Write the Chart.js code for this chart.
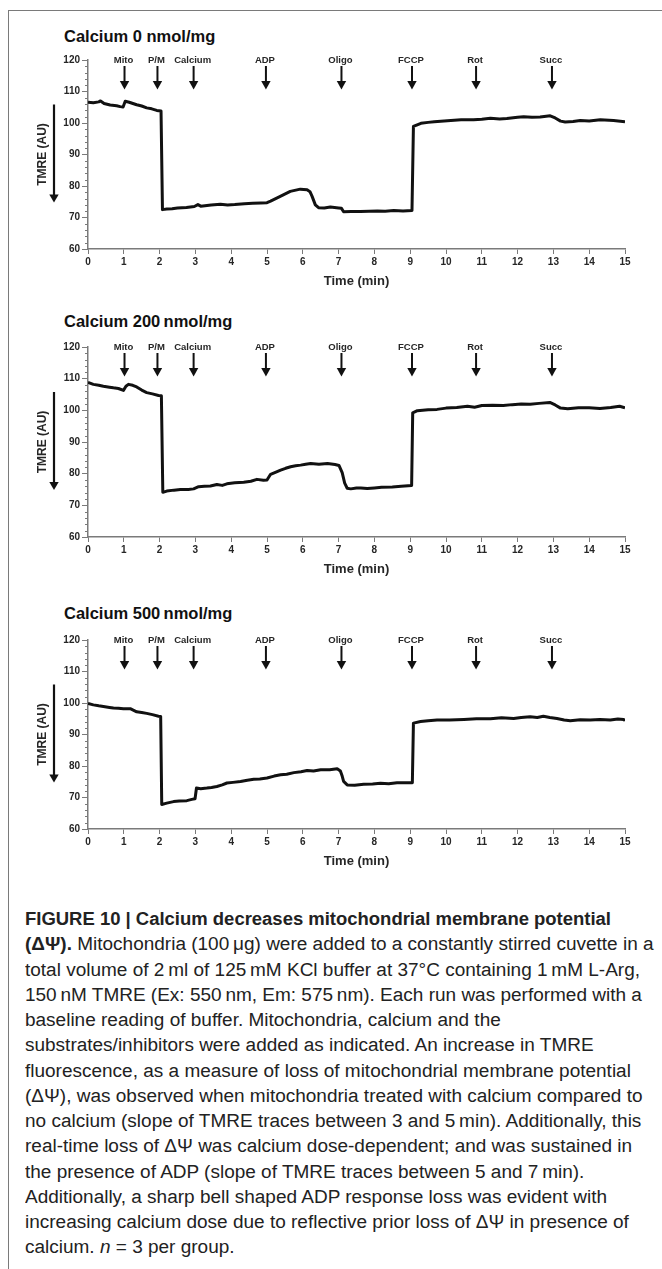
<!DOCTYPE html>
<html lang="en">
<head>
<meta charset="utf-8">
<title>Figure 10 - TMRE traces</title>
<script src="https://cdn.jsdelivr.net/npm/chart.js@4.4.1/dist/chart.umd.min.js"></script>
<style>
    html, body { margin: 0; padding: 0; background: #fff; }
    body { width: 662px; height: 1269px; position: relative; overflow: hidden; font-family: "Liberation Sans", Arial, sans-serif; }
    .frame { position: absolute; left: 8px; top: 10px; width: 660px; height: 1270px; border-top: 1.5px solid #7a7a7a; border-left: 1.5px solid #7a7a7a; }
    .panel-title { position: absolute; left: 64px; font-weight: 700; font-size: 16.5px; line-height: 20px; color: #111; white-space: nowrap; }
    .chart-box { position: absolute; left: 0; width: 662px; }
    .caption { position: absolute; left: 25px; top: 907px; font-size: 18px; line-height: 25.25px; color: #222; transform-origin: 0 0;
               font-family: "Liberation Sans Narrow", "Liberation Sans", Arial, sans-serif; }
    .caption .ln { white-space: nowrap; }
    .caption .ln span { display: inline-block; transform-origin: 0 0; }
</style>
</head>
<body>
<div class="frame"></div>

<div class="panel-title" style="top:26px">Calcium 0 nmol/mg</div>
<div class="chart-box" style="top:45px;height:250px"><canvas id="chart-ca0"></canvas></div>

<div class="panel-title" style="top:311px">Calcium 200&thinsp;nmol/mg</div>
<div class="chart-box" style="top:332px;height:251px"><canvas id="chart-ca200"></canvas></div>

<div class="panel-title" style="top:603px">Calcium 500&thinsp;nmol/mg</div>
<div class="chart-box" style="top:625px;height:250px"><canvas id="chart-ca500"></canvas></div>

<div class="caption" id="caption">
    <div class="ln"><span id="cap-head"><b>FIGURE 10 | Calcium decreases mitochondrial membrane potential</b></span></div>
    <div class="ln"><span><b>(&Delta;&Psi;).</b> Mitochondria (100&thinsp;&mu;g) were added to a constantly stirred cuvette in a</span></div>
    <div class="ln"><span id="cap-ref">total volume of 2&thinsp;ml of 125&thinsp;mM KCl buffer at 37&deg;C containing 1&thinsp;mM L-Arg,</span></div>
    <div class="ln"><span>150&thinsp;nM TMRE (Ex: 550&thinsp;nm, Em: 575&thinsp;nm). Each run was performed with a</span></div>
    <div class="ln"><span>baseline reading of buffer. Mitochondria, calcium and the</span></div>
    <div class="ln"><span>substrates/inhibitors were added as indicated. An increase in TMRE</span></div>
    <div class="ln"><span>fluorescence, as a measure of loss of mitochondrial membrane potential</span></div>
    <div class="ln"><span>(&Delta;&Psi;), was observed when mitochondria treated with calcium compared to</span></div>
    <div class="ln"><span>no calcium (slope of TMRE traces between 3 and 5&thinsp;min). Additionally, this</span></div>
    <div class="ln"><span>real-time loss of &Delta;&Psi; was calcium dose-dependent; and was sustained in</span></div>
    <div class="ln"><span>the presence of ADP (slope of TMRE traces between 5 and 7&thinsp;min).</span></div>
    <div class="ln"><span>Additionally, a sharp bell shaped ADP response loss was evident with</span></div>
    <div class="ln"><span>increasing calcium dose due to reflective prior loss of &Delta;&Psi; in presence of</span></div>
    <div class="ln"><span>calcium. <i>n</i> = 3 per group.</span></div>
</div>

<script>
// --- Data ---
// additions marked with arrows (time in min)
const eventLabels = ['Mito', 'P/M', 'Calcium', 'ADP', 'Oligo', 'FCCP', 'Rot', 'Succ'];
const eventTimes = [1.02, 1.94, 2.95, 4.97, 7.08, 9.05, 10.84, 12.96];

// axis ticks
const timeTicks = [0, 15, 1];     // min, max, step
const tmreTicks = [60, 120, 10];  // min, max, step
const tmreMinorStep = 2;

// Calcium 0 nmol/mg
const ca0Time = [
    0, 0.15, 0.3, 0.35, 0.45, 0.62, 0.8, 0.9, 0.98, 1.04,
    1.15, 1.36, 1.5, 1.64, 1.78, 1.92, 2.04, 2.08, 2.2, 2.35,
    2.5, 2.75, 2.97, 3.07, 3.15, 3.44, 3.7, 3.9, 4.1, 4.37,
    4.6, 4.83, 5.0, 5.1, 5.37, 5.65, 5.93, 6.12, 6.2, 6.26,
    6.35, 6.44, 6.6, 6.77, 7.0, 7.08, 7.14, 7.35, 7.61, 7.85,
    8.08, 8.3, 8.54, 8.8, 9.05, 9.09, 9.3, 9.5, 9.67, 10.04,
    10.42, 10.77, 11.0, 11.24, 11.5, 11.7, 12.0, 12.17, 12.4, 12.63,
    12.91, 13.05, 13.2, 13.33, 13.55, 13.75, 14.0, 14.31, 14.68, 15.0
];
const ca0Tmre = [
    106.6, 106.4, 106.7, 107.0, 106.2, 105.7, 105.5, 105.2, 105.1, 106.9,
    106.6, 105.8, 105.4, 104.8, 104.5, 104.0, 103.8, 72.5, 72.7, 72.8,
    73.0, 73.2, 73.5, 74.1, 73.6, 74.0, 74.2, 74.0, 74.1, 74.4,
    74.5, 74.6, 74.7, 75.2, 76.7, 78.3, 79.0, 78.8, 78.2, 76.7,
    74.0, 73.1, 73.0, 73.3, 73.0, 72.9, 71.8, 71.9, 71.9, 72.0,
    72.1, 72.0, 72.2, 72.1, 72.2, 98.9, 99.9, 100.2, 100.4, 100.7,
    101.0, 101.0, 101.2, 101.5, 101.3, 101.4, 101.8, 102.0, 101.8, 101.9,
    102.3, 101.6, 100.6, 100.3, 100.5, 100.8, 100.6, 101.0, 100.8, 100.4
];

// Calcium 200 nmol/mg
const ca200Time = [
    0, 0.15, 0.3, 0.43, 0.6, 0.71, 0.85, 0.99, 1.06, 1.13,
    1.25, 1.36, 1.5, 1.64, 1.8, 1.97, 2.05, 2.09, 2.2, 2.4,
    2.58, 2.8, 2.95, 3.09, 3.25, 3.42, 3.6, 3.75, 3.88, 4.1,
    4.35, 4.55, 4.72, 4.9, 5.0, 5.1, 5.25, 5.38, 5.52, 5.66,
    5.8, 5.94, 6.08, 6.22, 6.45, 6.69, 6.9, 7.01, 7.1, 7.17,
    7.24, 7.34, 7.5, 7.62, 7.8, 8.0, 8.2, 8.5, 8.75, 9.04,
    9.07, 9.2, 9.5, 9.75, 10.0, 10.3, 10.6, 10.8, 11.0, 11.3,
    11.6, 11.85, 12.1, 12.35, 12.6, 12.9, 13.05, 13.2, 13.4, 13.7,
    14.0, 14.3, 14.6, 14.85, 15.0
];
const ca200Tmre = [
    108.8, 108.2, 107.9, 107.6, 107.3, 107.1, 106.9, 106.3, 107.6, 108.2,
    107.9, 107.4, 106.4, 105.6, 105.2, 104.7, 104.6, 74.1, 74.5, 74.8,
    75.0, 75.0, 75.2, 75.9, 76.0, 76.1, 76.6, 76.3, 76.8, 77.1,
    77.3, 77.6, 78.2, 77.9, 78.0, 79.8, 80.5, 81.1, 81.7, 82.2,
    82.5, 82.7, 83.0, 83.2, 83.0, 83.2, 82.9, 82.6, 80.3, 77.0,
    75.4, 75.2, 75.5, 75.5, 75.3, 75.5, 75.7, 75.8, 76.0, 76.3,
    99.2, 99.9, 100.2, 100.3, 100.7, 100.9, 101.3, 101.0, 101.5, 101.6,
    101.5, 101.8, 102.0, 101.9, 102.2, 102.5, 101.7, 100.7, 100.5, 100.8,
    100.8, 100.6, 100.9, 101.3, 100.8
];

// Calcium 500 nmol/mg
const ca500Time = [
    0, 0.15, 0.3, 0.43, 0.6, 0.71, 0.85, 0.99, 1.18, 1.36,
    1.5, 1.64, 1.8, 1.97, 2.03, 2.06, 2.2, 2.39, 2.55, 2.76,
    2.9, 2.99, 3.03, 3.15, 3.32, 3.45, 3.6, 3.75, 3.88, 4.05,
    4.26, 4.45, 4.63, 4.8, 5.0, 5.2, 5.38, 5.55, 5.75, 5.95,
    6.12, 6.3, 6.5, 6.75, 6.96, 7.05, 7.1, 7.14, 7.24, 7.45,
    7.7, 7.95, 8.17, 8.4, 8.63, 8.85, 9.06, 9.09, 9.29, 9.5,
    9.75, 10.1, 10.5, 10.85, 11.24, 11.55, 11.89, 12.1, 12.35, 12.55,
    12.72, 12.9, 13.1, 13.3, 13.47, 13.75, 14.03, 14.3, 14.59, 14.8,
    14.96, 15.0
];
const ca500Tmre = [
    99.9, 99.4, 99.1, 98.9, 98.6, 98.4, 98.3, 98.2, 98.2, 97.2,
    97.0, 96.7, 96.3, 95.8, 95.7, 67.8, 68.2, 68.7, 68.9, 69.0,
    69.4, 69.6, 73.0, 72.8, 73.0, 73.2, 73.5, 74.0, 74.6, 74.8,
    75.1, 75.5, 75.8, 75.9, 76.2, 76.8, 77.2, 77.4, 77.9, 78.2,
    78.6, 78.4, 78.8, 78.8, 79.1, 78.4, 76.8, 75.1, 74.0, 73.9,
    74.2, 74.3, 74.5, 74.4, 74.7, 74.7, 74.7, 93.6, 94.1, 94.4,
    94.6, 94.6, 94.8, 95.0, 95.0, 95.3, 95.1, 95.4, 95.6, 95.4,
    95.8, 95.4, 95.1, 94.6, 94.4, 94.7, 94.6, 94.8, 94.6, 94.9,
    94.8, 94.4
];

document.addEventListener('DOMContentLoaded', () => {
    // --- Caption width: squeeze to the condensed look of the original ---
    const caption = document.getElementById('caption');
    const refWidth = document.getElementById('cap-ref').getBoundingClientRect().width;
    const k = 615 / refWidth;
    caption.style.transform = `scaleX(${k})`;
    // bold heading is a touch narrower in the original
    const head = document.getElementById('cap-head');
    const headWidth = head.getBoundingClientRect().width; // already scaled by k
    head.style.transform = `scaleX(${586 / headWidth})`;

    const axisGrey = '#7a7a7a';
    const labelColor = '#262626';

    // --- Arrows, minor ticks and the y-direction arrow ---
    const markersPlugin = {
        id: 'markers',
        afterDraw(chart) {
            const { ctx, chartArea, scales: { x, y } } = chart;
            const yTop = y.getPixelForValue(tmreTicks[1]);
            ctx.save();

            // minor ticks on the y axis
            ctx.strokeStyle = axisGrey;
            ctx.lineWidth = 1;
            for (let v = tmreTicks[0]; v <= tmreTicks[1]; v += tmreMinorStep) {
                if (v % tmreTicks[2] === 0) continue;
                const py = Math.round(y.getPixelForValue(v)) + 0.5;
                ctx.beginPath();
                ctx.moveTo(chartArea.left - 3, py);
                ctx.lineTo(chartArea.left, py);
                ctx.stroke();
            }

            // event labels + arrows
            ctx.fillStyle = labelColor;
            ctx.strokeStyle = '#111';
            ctx.font = 'bold 9.5px "Liberation Sans", Arial, sans-serif';
            ctx.textAlign = 'center';
            ctx.textBaseline = 'middle';
            eventTimes.forEach((t, i) => {
                const px = x.getPixelForValue(t);
                ctx.fillText(eventLabels[i], px - 1, yTop);
                ctx.lineWidth = 2;
                ctx.beginPath();
                ctx.moveTo(px, yTop + 6);
                ctx.lineTo(px, yTop + 22);
                ctx.stroke();
                ctx.fillStyle = '#111';
                ctx.beginPath();
                ctx.moveTo(px - 4.7, yTop + 21);
                ctx.lineTo(px + 4.7, yTop + 21);
                ctx.lineTo(px, yTop + 29.5);
                ctx.closePath();
                ctx.fill();
                ctx.fillStyle = labelColor;
            });

            // downward arrow beside the y title
            const ax = chartArea.left - 34;
            const cy = (chartArea.top + chartArea.bottom) / 2;
            ctx.strokeStyle = '#111';
            ctx.lineWidth = 2.2;
            ctx.beginPath();
            ctx.moveTo(ax, cy - 50);
            ctx.lineTo(ax, cy + 41);
            ctx.stroke();
            ctx.fillStyle = '#111';
            ctx.beginPath();
            ctx.moveTo(ax - 4.7, cy + 40);
            ctx.lineTo(ax + 4.7, cy + 40);
            ctx.lineTo(ax, cy + 48);
            ctx.closePath();
            ctx.fill();

            ctx.restore();
        }
    };

    // --- Charts ---
    const panels = [
        { id: 'chart-ca0', times: ca0Time, values: ca0Tmre },
        { id: 'chart-ca200', times: ca200Time, values: ca200Tmre },
        { id: 'chart-ca500', times: ca500Time, values: ca500Tmre }
    ];

    const tickFont = { family: '"Liberation Sans", Arial, sans-serif', size: 10, weight: 'bold' };
    const titleFont = { family: '"Liberation Sans", Arial, sans-serif', size: 13, weight: 'bold' };

    panels.forEach(p => {
        const ctx = document.getElementById(p.id).getContext('2d');
        new Chart(ctx, {
            type: 'line',
            data: {
                datasets: [{
                    label: 'TMRE',
                    data: p.times.map((t, i) => ({ x: t, y: p.values[i] })),
                    borderColor: '#111',
                    borderWidth: 3,
                    borderJoinStyle: 'round',
                    pointRadius: 0,
                    tension: 0,
                    fill: false
                }]
            },
            options: {
                responsive: true,
                maintainAspectRatio: false,
                animation: false,
                layout: { padding: { top: 15, right: 37, bottom: 0, left: 0 } },
                plugins: {
                    legend: { display: false },
                    tooltip: { enabled: false }
                },
                scales: {
                    x: {
                        type: 'linear',
                        min: timeTicks[0],
                        max: timeTicks[1],
                        ticks: { stepSize: timeTicks[2], color: labelColor, font: tickFont, padding: 2, maxRotation: 0 },
                        grid: { drawOnChartArea: false, tickLength: 5, color: axisGrey },
                        border: { color: axisGrey, width: 1.5 },
                        title: { display: true, text: 'Time (min)', color: labelColor, font: titleFont, padding: { top: 0, bottom: 6 } },
                        afterFit: scale => { scale.height = 46; }
                    },
                    y: {
                        min: tmreTicks[0],
                        max: tmreTicks[1],
                        ticks: { stepSize: tmreTicks[2], color: labelColor, font: tickFont, padding: 2 },
                        grid: { drawOnChartArea: false, tickLength: 6, color: axisGrey },
                        border: { color: axisGrey, width: 1.5 },
                        title: { display: true, text: 'TMRE (AU)', color: labelColor, font: { ...titleFont, size: 12 }, padding: { top: 35, bottom: 0 } },
                        afterFit: scale => { scale.width = 88; }
                    }
                }
            },
            plugins: [markersPlugin]
        });
    });
});
</script>
</body>
</html>
